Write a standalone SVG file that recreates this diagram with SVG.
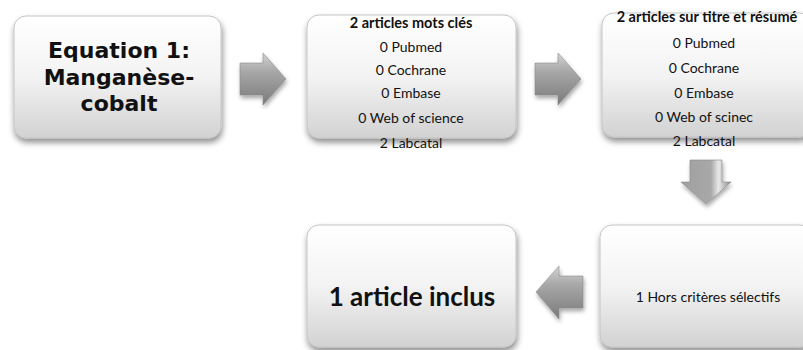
<svg xmlns="http://www.w3.org/2000/svg" width="803" height="350" viewBox="0 0 803 350">
<defs>
<linearGradient id="boxg" x1="0" y1="0" x2="0" y2="1">
<stop offset="0" stop-color="#ffffff"/>
<stop offset="0.5" stop-color="#f3f3f3"/>
<stop offset="1" stop-color="#d2d2d2"/>
</linearGradient>
<linearGradient id="arrh" x1="0" y1="0" x2="0" y2="1">
<stop offset="0" stop-color="#d4d4d4"/>
<stop offset="0.35" stop-color="#a8a8a8"/>
<stop offset="1" stop-color="#7a7a7a"/>
</linearGradient>
<linearGradient id="arrv" x1="0" y1="0" x2="1" y2="0">
<stop offset="0" stop-color="#a0a0a0"/>
<stop offset="0.6" stop-color="#a8a8a8"/>
<stop offset="0.75" stop-color="#e8e8e8"/>
<stop offset="1" stop-color="#8a8a8a"/>
</linearGradient>
<filter id="sh" x="-10%" y="-10%" width="125%" height="130%">
<feGaussianBlur in="SourceAlpha" stdDeviation="3"/>
<feOffset dx="1" dy="4" result="b"/>
<feComponentTransfer><feFuncA type="linear" slope="0.45"/></feComponentTransfer>
<feMerge><feMergeNode/><feMergeNode in="SourceGraphic"/></feMerge>
</filter>
<filter id="ash" x="-20%" y="-20%" width="150%" height="150%">
<feGaussianBlur in="SourceAlpha" stdDeviation="2"/>
<feOffset dx="1" dy="3"/>
<feComponentTransfer><feFuncA type="linear" slope="0.35"/></feComponentTransfer>
<feMerge><feMergeNode/><feMergeNode in="SourceGraphic"/></feMerge>
</filter>
</defs>
<style>
.box{fill:url(#boxg);stroke:#c4c4c4;stroke-width:1;filter:url(#sh)}
.t{font-family:Lato,"Open Sans","Liberation Sans",sans-serif;fill:#111;text-anchor:middle}
.eq{font-family:"DejaVu Sans",sans-serif;font-size:22px;font-weight:bold;fill:#111;text-anchor:middle}
.big{font-size:26px;font-weight:bold}
.hd{font-size:14.5px;font-weight:bold}
.ln{font-size:14px}
.sm{font-size:14px}
.arr{fill:url(#arrh);stroke:#8c8c8c;stroke-width:0.6;filter:url(#ash)}
.arrd{fill:url(#arrv);stroke:#8c8c8c;stroke-width:0.6;filter:url(#ash)}
</style>
<rect width="803" height="350" fill="#ffffff"/>
<g id="connectors">
<polygon class="arr" points="240,63 263,63 263,53 286,79 263,105 263,95 240,95"/>
<polygon class="arr" points="535,63 558,63 558,53 581,79 558,105 558,95 535,95"/>
<polygon class="arrd" points="690,160 722,160 722,182 731,182 706,204 681,182 690,182"/>
<polygon class="arr" points="536,292 559,266 559,276 583,276 583,308 559,308 559,319"/>
</g>
<g id="node1">
<rect class="box" x="14" y="16" width="207" height="122" rx="12"/>
<text class="eq" x="119" y="58"><tspan x="119">Equation 1:</tspan><tspan x="119" dy="26.5">Manganèse-</tspan><tspan x="119" dy="26.5">cobalt</tspan></text>
</g>
<g id="node2">
<rect class="box" x="307" y="15" width="209" height="123" rx="12"/>
<text class="t hd" x="411" y="28">2 articles mots clés</text>
<text class="t ln" x="411" y="52">0 Pubmed</text>
<text class="t ln" x="411" y="75">0 Cochrane</text>
<text class="t ln" x="411" y="98">0 Embase</text>
<text class="t ln" x="411" y="123">0 Web of science</text>
<text class="t ln" x="411" y="148">2 Labcatal</text>
</g>
<g id="node3">
<rect class="box" x="602" y="13" width="210" height="124" rx="12"/>
<text class="t hd" x="707" y="22">2 articles sur titre et résumé</text>
<text class="t ln" x="704" y="48">0 Pubmed</text>
<text class="t ln" x="704" y="73">0 Cochrane</text>
<text class="t ln" x="704" y="98">0 Embase</text>
<text class="t ln" x="704" y="122">0 Web of scinec</text>
<text class="t ln" x="704" y="146">2 Labcatal</text>
</g>
<g id="node4">
<rect class="box" x="600" y="225" width="212" height="122" rx="12"/>
<text class="t sm" x="708" y="302">1 Hors critères sélectifs</text>
</g>
<g id="node5">
<rect class="box" x="307" y="225" width="209" height="122" rx="12"/>
<text class="t big" x="412" y="306">1 article inclus</text>
</g>
</svg>
